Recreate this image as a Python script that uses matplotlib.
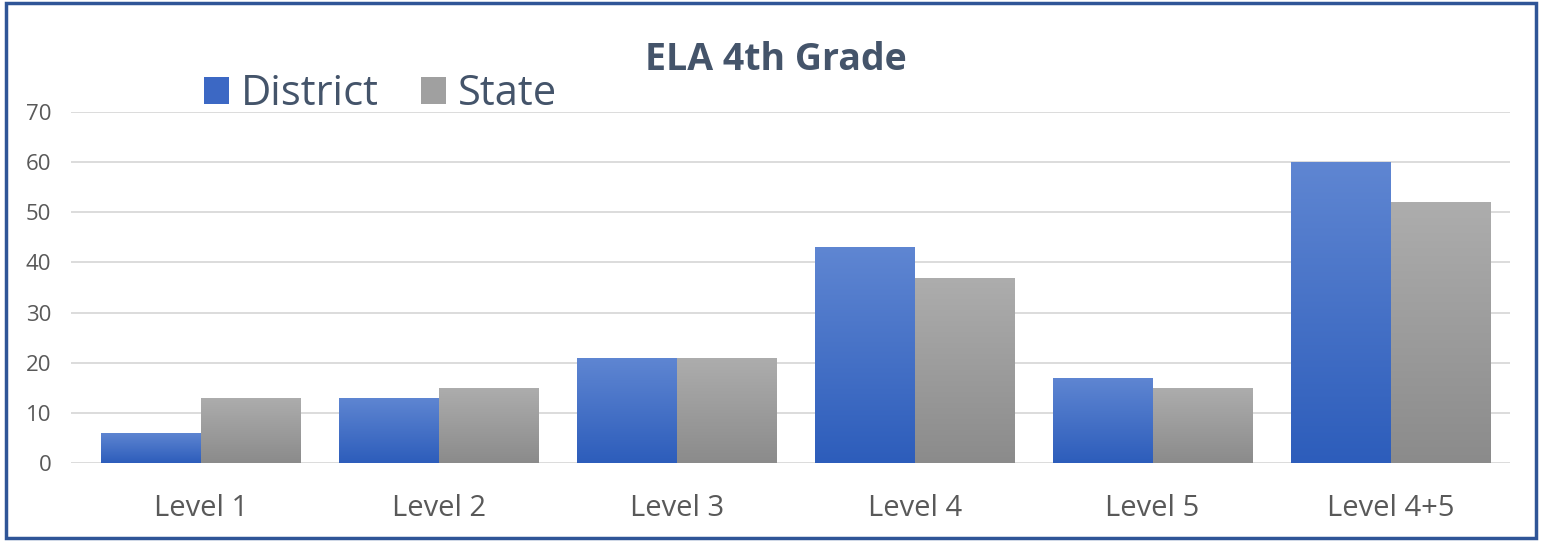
import matplotlib
matplotlib.use("Agg")
import matplotlib.pyplot as plt
import numpy as np
from matplotlib.patches import Rectangle, Patch

categories = ["Level 1", "Level 2", "Level 3", "Level 4", "Level 5", "Level 4+5"]
district = [6, 13, 21, 43, 17, 60]
state = [13, 15, 21, 37, 15, 52]

plt.rcParams["font.family"] = ["Open Sans", "DejaVu Sans"]

fig = plt.figure(figsize=(15.42, 5.41), dpi=100)
ax = fig.add_axes([0.046, 0.144, 0.933, 0.649])

x = np.arange(len(categories))
w = 0.42


def gradient_bars(xpos, vals, top_col, bot_col):
    bars = ax.bar(xpos, vals, width=w, color="none", edgecolor="none", zorder=2)
    grad = np.linspace(0, 1, 256).reshape(-1, 1)
    c1 = np.array(matplotlib.colors.to_rgb(top_col))
    c2 = np.array(matplotlib.colors.to_rgb(bot_col))
    img = (c2 * (1 - grad[..., None]) + c1 * grad[..., None])
    for b in bars:
        x0, y0 = b.get_x(), b.get_y()
        bw, bh = b.get_width(), b.get_height()
        im = ax.imshow(img, extent=[x0, x0 + bw, y0, y0 + bh], origin="lower",
                       aspect="auto", zorder=2)
        im.set_clip_path(b)
    return bars


gradient_bars(x - w / 2, district, "#5f86d2", "#2d5dbb")
gradient_bars(x + w / 2, state, "#adadad", "#8b8b8b")

ax.set_xlim(-0.545, len(categories) - 0.5)
ax.set_ylim(0, 70)
ax.set_yticks(range(0, 71, 10))
ax.set_xticks(x)
ax.set_xticklabels(categories)
ax.tick_params(axis="y", length=0, labelsize=16, colors="#595959", pad=14)
ax.tick_params(axis="x", length=0, labelsize=21, colors="#595959", pad=22)
ax.grid(axis="y", color="#d9d9d9", linewidth=1.3, zorder=0)
ax.set_axisbelow(True)
for s in ax.spines.values():
    s.set_visible(False)

fig.text(0.503, 0.89, "ELA 4th Grade", ha="center", va="center",
         fontsize=27, fontweight="bold", color="#44546a")

handles = [Patch(facecolor="#3c68c4"), Patch(facecolor="#a0a0a0")]
fig.legend(handles, ["District", "State"], loc="center left",
           bbox_to_anchor=(0.132, 0.826), ncol=2, frameon=False,
           fontsize=30, labelcolor="#44546a", handlelength=0.6,
           handleheight=0.6, handletextpad=0.3, columnspacing=1.0,
           borderaxespad=0, borderpad=0)

fig.patches.append(Rectangle((0.004, 0.006), 0.992, 0.988, transform=fig.transFigure,
                             fill=False, edgecolor="#2f5597", linewidth=2.5))

fig.savefig("out.png", dpi=100)
